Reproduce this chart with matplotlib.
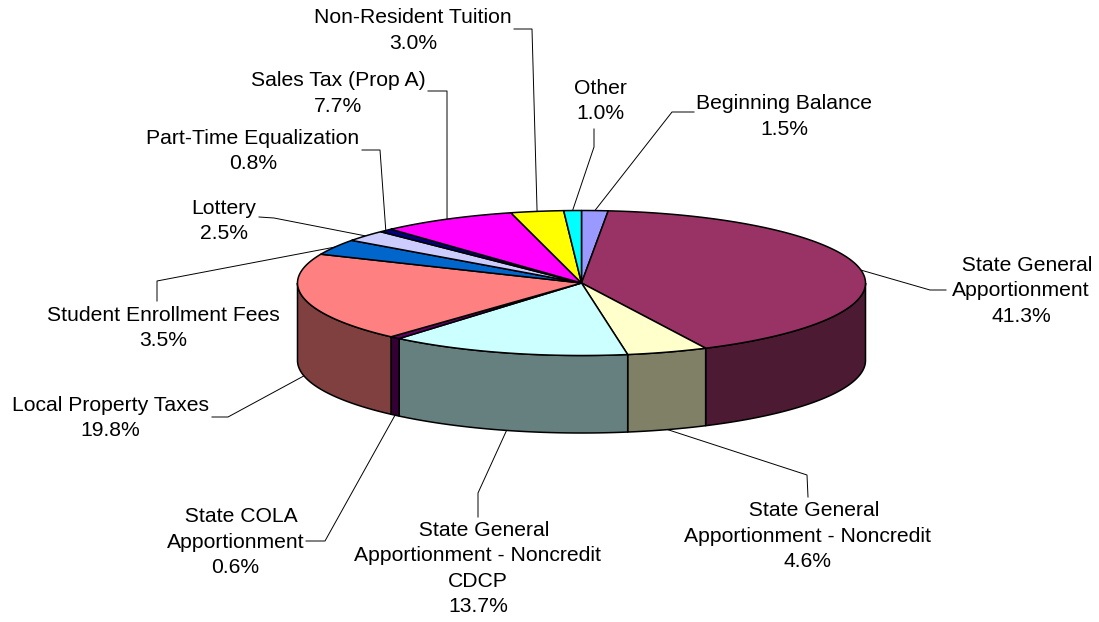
import numpy as np
import matplotlib
matplotlib.use('Agg')
import matplotlib.pyplot as plt
from matplotlib.patches import Polygon

plt.rcParams['font.family'] = ['Liberation Sans', 'DejaVu Sans']

# clockwise from 12 o'clock, the leading spaces are how the source offsets those lines
categories = ['Beginning Balance', '  State General\nApportionment', '  State General\nApportionment - Noncredit',
              '  State General\nApportionment - Noncredit\nCDCP', '  State COLA\nApportionment',
              'Local Property Taxes', 'Student Enrollment Fees', 'Lottery', 'Part-Time Equalization',
              'Sales Tax (Prop A)', 'Non-Resident Tuition', 'Other']
values = [1.5, 41.3, 4.6, 13.7, 0.6, 19.8, 3.5, 2.5, 0.8, 7.7, 3.0, 1.0]
top_colors = ['#9999FF', '#993366', '#FFFFCC', '#CCFFFF', '#660066', '#FF8080',
              '#0066CC', '#CCCCFF', '#000080', '#FF00FF', '#FFFF00', '#00FFFF']
side_colors = ['#4D4D80', '#4D1A33', '#808066', '#668080', '#330033', '#804040',
               '#003366', '#666680', '#000040', '#800080', '#808000', '#008080']

# label centres and leader bends, in pixels
label_pos = [(784, 116.5), (1021, 291), (808, 536), (478, 568.5), (235.5, 542), (110, 418),
             (163, 328), (224, 221), (253, 151), (338, 93.5), (413, 30.5), (600, 101)]
bends = [[(694, 112), (672, 112)], [(946, 290), (930, 290)], [(808, 497), (807, 475)],
         [(478, 517), (478, 493)], [(306, 541), (325, 541)], [(212, 417), (228, 417)],
         [(157, 301), (157, 281)], [(259, 217), (274, 218)], [(362, 150), (380, 150)],
         [(428, 91), (447, 91)], [(514, 29), (532, 29)], [(594, 129), (594, 147)]]

cx, cy, rx, ry, depth = 581.5, 283, 284, 72.5, 77.5


def ell(theta, dy=0):
    t = np.radians(theta)
    return cx + rx * np.sin(t), cy - ry * np.cos(t) + dy


fig = plt.figure(figsize=(10.99, 6.22), dpi=100)
ax = fig.add_axes([0, 0, 1, 1])
ax.set_xlim(0, 1099)
ax.set_ylim(622, 0)
ax.axis('off')

edges = np.concatenate([[0], np.cumsum(values)]) / sum(values) * 360

# sides first, only the front half shows
for i in range(len(values)):
    a, b = max(edges[i], 90), min(edges[i + 1], 270)
    if a >= b:
        continue
    th = np.linspace(a, b, 80)
    x, y = ell(th)
    x2, y2 = ell(th[::-1], depth)
    pts = np.column_stack([np.r_[x, x2], np.r_[y, y2]])
    ax.add_patch(Polygon(pts, closed=True, fc=side_colors[i], ec='black', lw=1.1, joinstyle='round', zorder=2))

for i in range(len(values)):
    th = np.linspace(edges[i], edges[i + 1], 120)
    x, y = ell(th)
    pts = np.column_stack([np.r_[cx, x], np.r_[cy, y]])
    ax.add_patch(Polygon(pts, closed=True, fc=top_colors[i], ec='black', lw=1.1, joinstyle='round', zorder=3))

for i, name in enumerate(categories):
    mid = (edges[i] + edges[i + 1]) / 2
    dy = depth if 90 < mid < 270 else 0
    ax_, ay_ = ell(mid, dy)
    px = [p[0] for p in bends[i]] + [ax_]
    py = [p[1] for p in bends[i]] + [ay_]
    ax.plot(px, py, color='black', lw=0.7, zorder=1, solid_joinstyle='round')
    ax.text(label_pos[i][0], label_pos[i][1], f'{name}\n{values[i]:.1f}%', ha='center', va='center',
            fontsize=15.2, color='black', linespacing=1.43, zorder=4)

fig.savefig('out.png', dpi=100)
